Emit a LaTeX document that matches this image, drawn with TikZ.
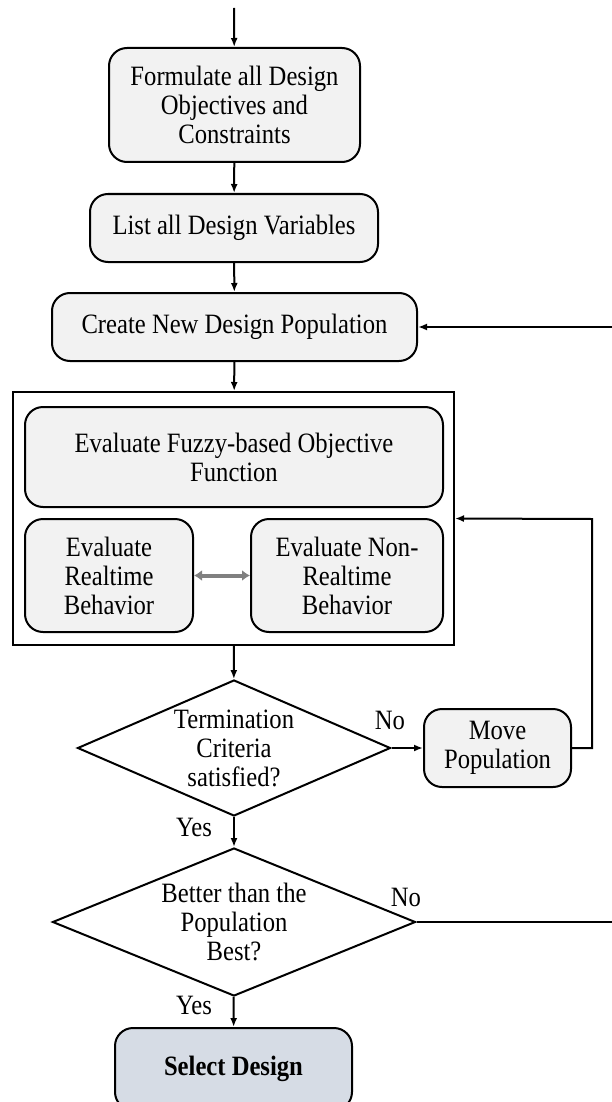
\documentclass[tikz,border=0pt]{standalone}
\usepackage{fontspec}
\setmainfont{Liberation Serif}[FakeStretch=0.88]
\usetikzlibrary{shapes.geometric,arrows.meta}
\definecolor{boxfill}{RGB}{242,242,242}
\definecolor{selfill}{RGB}{214,220,229}
\definecolor{dblgray}{RGB}{128,128,128}
\begin{document}
\begin{tikzpicture}[>={Latex[length=9pt,width=7pt]},x=1pt,y=-1pt,line width=2pt,
  font=\fontsize{28}{29}\selectfont,
  stepbox/.style={draw,fill=boxfill,rounded corners=18pt,align=center,inner sep=0pt},
  decide/.style={draw,diamond,align=center,inner sep=0pt}]
\useasboundingbox (0,0) rectangle (612,1102);
\coordinate (start) at (234,8);
\node[stepbox,minimum width=251pt,minimum height=114pt] (formulate) at (234.5,105) {Formulate all Design\\Objectives and\\Constraints};
\node[stepbox,minimum width=288pt,minimum height=68pt] (list) at (234,228) {List all Design Variables};
\node[stepbox,minimum width=365pt,minimum height=68pt] (create) at (234.5,327) {Create New Design Population};
\node[draw,minimum width=441pt,minimum height=253pt] (evalbox) at (233.5,518.5) {};
\node[stepbox,minimum width=418pt,minimum height=100pt] (fuzzy) at (234,457) {Evaluate Fuzzy-based Objective\\Function};
\node[stepbox,minimum width=168pt,minimum height=113pt] (rt) at (109,575.5) {Evaluate\\Realtime\\Behavior};
\node[stepbox,minimum width=192pt,minimum height=113pt] (nrt) at (347,575.5) {Evaluate Non-\\Realtime\\Behavior};
\node[decide,aspect=2.3,minimum width=313pt,minimum height=136pt] (crit) at (234,748) {Termination\\Criteria\\satisfied?};
\node[stepbox,minimum width=147pt,minimum height=78pt] (move) at (497.5,748) {Move\\Population};
\node[decide,aspect=2.45,minimum width=363pt,minimum height=148pt] (better) at (234,922) {Better than the\\Population\\Best?};
\node[stepbox,fill=selfill,minimum width=237pt,minimum height=82pt,font=\fontsize{28}{29}\selectfont\bfseries] (select) at (233.5,1069) {Select Design};
\node (no1) at (390,720) {No};
\node (yes1) at (194,827) {Yes};
\node (no2) at (406,897) {No};
\node (yes2) at (194,1005) {Yes};
\coordinate (rin) at (612,327);
\coordinate (rout) at (612,922);
\coordinate (fb) at (592,519);
% main flow
\draw[->] (start)--(formulate);
\draw[->] (formulate)--(list);
\draw[->] (list)--(create);
\draw[->] (create)--(evalbox);
\draw[->] (evalbox)--(crit);
\draw[->] (crit)--(better);
\draw[->] (better)--(select);
\draw[<->,dblgray,line width=4pt,>={Latex[length=8pt,width=11pt]}] (rt)--(nrt);
% loops
\draw[->] (crit)--(move);
\draw[->] (move.east)-|(fb)--(evalbox.east);
\draw (better.east)--(rout);
\draw[->] (rin)--(create.east);
\end{tikzpicture}
\end{document}
